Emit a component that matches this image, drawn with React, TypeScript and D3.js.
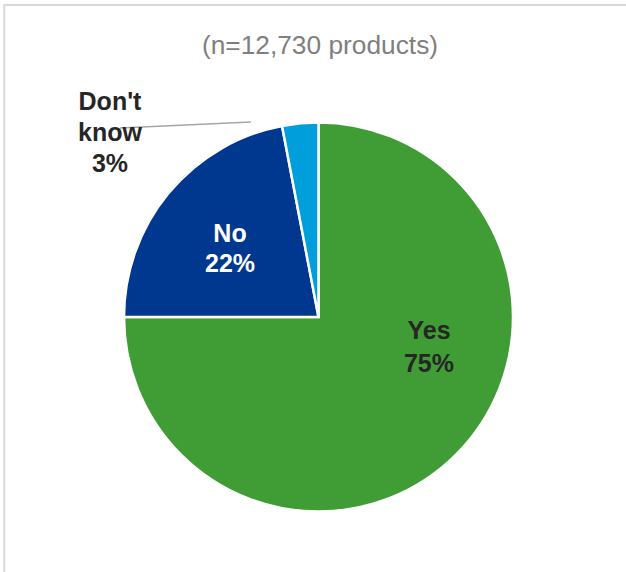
import React from "react";
import * as d3 from "d3";

const categories = ["Yes", "No", "Don't know"];
const values = [75, 22, 3];
const colors = ["#409c35", "#00388f", "#009edb"];
const title = "(n=12,730 products)";

const W = 626;
const H = 572;
const cx = 318.5;
const cy = 317;
const R = 194.5;

export default function App() {
  const pie = d3.pie<number>().sort(null).startAngle(0).endAngle(2 * Math.PI);
  const arcs = pie(values);
  const arcGen = d3.arc<d3.PieArcDatum<number>>().innerRadius(0).outerRadius(R);

  // label anchors (relative to pie center) and styles
  const labelPos = [
    { x: 110.5, y: 22, fill: "#262626" },
    { x: -88.5, y: -75, fill: "#ffffff" },
    { x: -208.5, y: -207, fill: "#262626" },
  ];
  const lineH = 31;
  const fontFamily = "'Liberation Sans', Arial, sans-serif";

  return (
    <svg
      width={W}
      height={H}
      style={{ position: "absolute", left: 0, top: 0, display: "block", background: "#fff" }}
    >
      <rect x={4.3} y={5} width={W + 20} height={H + 20} fill="#fff" stroke="#d9d9d9" strokeWidth={2} />
      <text
        x={cx + 1.5}
        y={54}
        textAnchor="middle"
        fontFamily={fontFamily}
        fontSize={26.3}
        fill="#7f7f7f"
      >
        {title}
      </text>
      <g transform={`translate(${cx},${cy})`}>
        {arcs.map((a, i) => (
          <path key={i} d={arcGen(a) || ""} fill={colors[i]} stroke="#fff" strokeWidth={2.5} strokeLinejoin="miter" />
        ))}
        <line x1={-198.5} y1={-189} x2={-67.5} y2={-195} stroke="#a6a6a6" strokeWidth={1.5} />
        {arcs.map((a, i) => {
          const p = labelPos[i];
          const pct = Math.round((a.data / d3.sum(values)) * 100) + "%";
          const lines = categories[i] === "Don't know" ? ["Don't", "know", pct] : [categories[i], pct];
          return (
            <text
              key={"l" + i}
              textAnchor="middle"
              fontFamily={fontFamily}
              fontWeight="bold"
              fontSize={25}
              fill={p.fill}
            >
              {lines.map((t, j) => (
                <tspan key={j} x={p.x} y={p.y + j * (i === 0 ? 33 : i === 1 ? 30 : lineH)}>
                  {t}
                </tspan>
              ))}
            </text>
          );
        })}
      </g>
    </svg>
  );
}
